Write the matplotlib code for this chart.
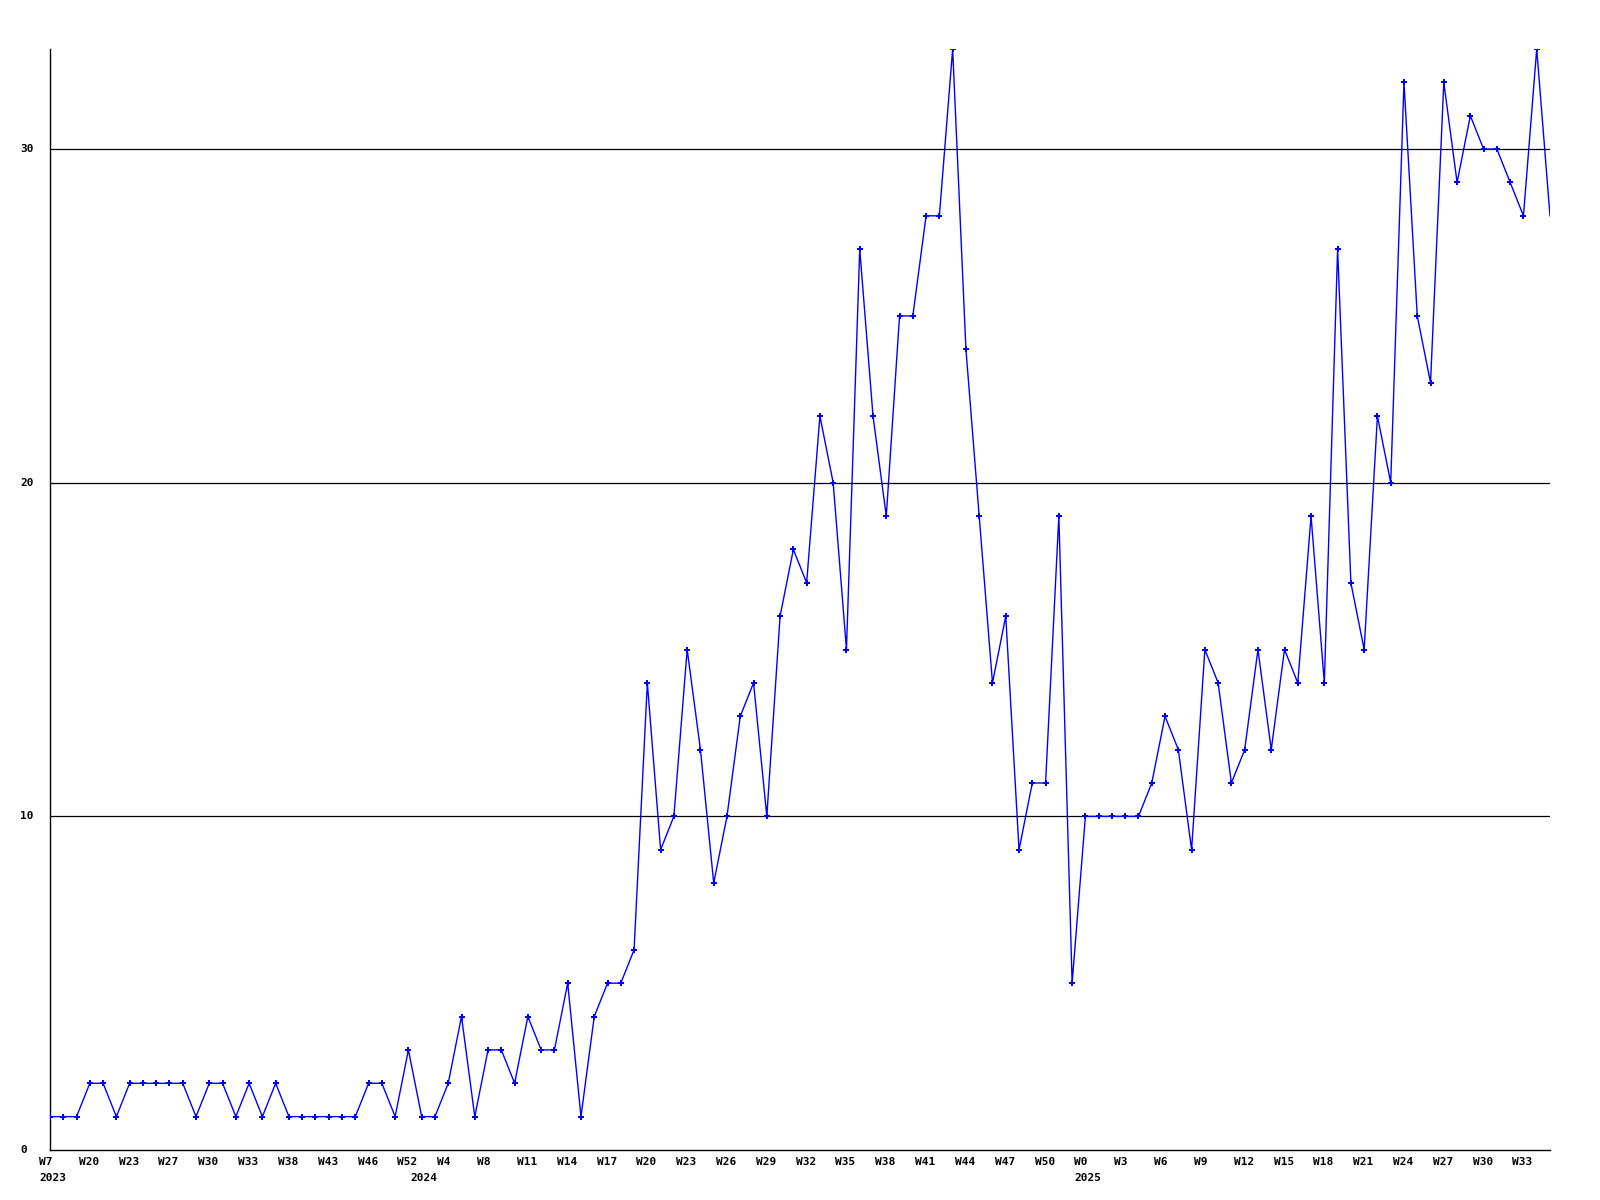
import matplotlib
matplotlib.use("Agg")
import matplotlib.pyplot as plt
import matplotlib.transforms as mtransforms

# weekly counts, one value per week
values = [1, 1, 1, 2, 2, 1, 2, 2, 2, 2, 2, 1, 2, 2, 1, 2, 1, 2, 1, 1,
          1, 1, 1, 1, 2, 2, 1, 3, 1, 1, 2, 4, 1, 3, 3, 2, 4, 3, 3, 5,
          1, 4, 5, 5, 6, 14, 9, 10, 15, 12, 8, 10, 13, 14, 10, 16, 18, 17, 22, 20,
          15, 27, 22, 19, 25, 25, 28, 28, 33, 24, 19, 14, 16, 9, 11, 11, 19, 5, 10, 10,
          10, 10, 10, 11, 13, 12, 9, 15, 14, 11, 12, 15, 12, 15, 14, 19, 14, 27, 17, 15,
          22, 20, 32, 25, 23, 32, 29, 31, 30, 30, 29, 28, 33, 28]

week_labels = ["W7", "W20", "W23", "W27", "W30", "W33", "W38", "W43", "W46", "W52",
               "W4", "W8", "W11", "W14", "W17", "W20", "W23", "W26", "W29", "W32",
               "W35", "W38", "W41", "W44", "W47", "W50", "W0", "W3", "W6", "W9",
               "W12", "W15", "W18", "W21", "W24", "W27", "W30", "W33"]
week_label_idx = list(range(0, len(values), 3))

years = ["2023", "2024", "2025"]
year_idx = [0, 28, 78]

y_ticks = [0, 10, 20, 30]

fig = plt.figure(figsize=(16, 12), dpi=100)
ax = fig.add_axes([50 / 1600, 1 - 1150 / 1200, 1500 / 1600, 1101 / 1200])

x = list(range(len(values)))
ax.plot(x, values, color="#0000ff", lw=1.0, zorder=3)
ax.plot(x[:-1], values[:-1], ls="none", marker="P", ms=4.5, mew=0,
        color="#0000ff", zorder=4)

ax.set_xlim(0, len(values) - 1)
ax.set_ylim(0, 33)

for s in ["top", "right"]:
    ax.spines[s].set_visible(False)
for s in ["left", "bottom"]:
    ax.spines[s].set_color("black")
    ax.spines[s].set_linewidth(1.0)

for v in y_ticks[1:]:
    ax.axhline(v, color="black", lw=0.9, zorder=1)

ax.set_xticks([])
ax.set_yticks([])

font = dict(family="DejaVu Sans Mono", fontweight="bold", fontsize=8)

# y labels at fixed figure x
ytrans = mtransforms.blended_transform_factory(fig.transFigure, ax.transData)
for v in y_ticks:
    ax.text(20 / 1600, v, str(v), transform=ytrans, ha="left", va="center",
            clip_on=False, **font)

# week labels
xtrans = mtransforms.blended_transform_factory(ax.transData, ax.transAxes)
wtrans = mtransforms.offset_copy(xtrans, fig=fig, x=-11, y=-12, units="dots")
for i, lab in zip(week_label_idx, week_labels):
    ax.text(i, 0, lab, transform=wtrans, ha="left", va="center",
            clip_on=False, **font)

ytr = mtransforms.offset_copy(xtrans, fig=fig, x=-11, y=-28, units="dots")
for i, lab in zip(year_idx, years):
    ax.text(i, 0, lab, transform=ytr, ha="left", va="center",
            clip_on=False, **font)

fig.savefig("out.png", dpi=100, facecolor="white")
